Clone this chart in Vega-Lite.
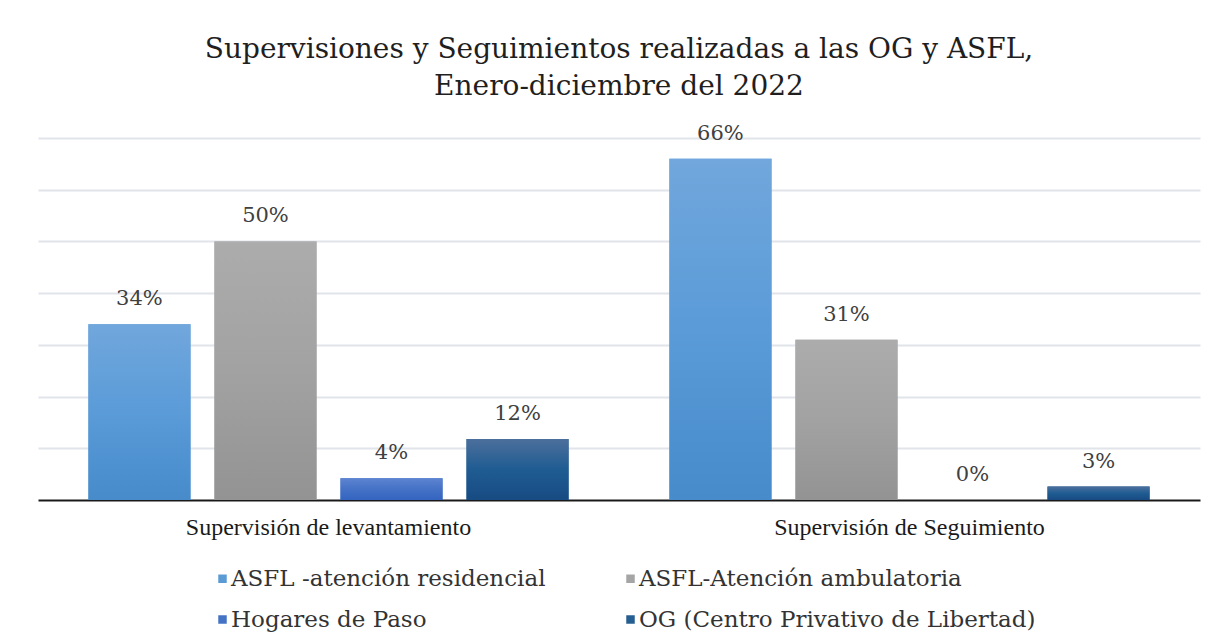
{
  "$schema": "https://vega.github.io/schema/vega-lite/v6.json",
  "width": 1162,
  "height": 362,
  "padding": {"left": 38, "top": 35, "right": 17, "bottom": 5},
  "background": "white",
  "title": {
    "text": ["Supervisiones y Seguimientos realizadas a las OG y ASFL,", "Enero-diciembre  del 2022"],
    "font": "DejaVu Serif",
    "fontSize": 28,
    "fontWeight": "normal",
    "color": "#1f1f1f",
    "lineHeight": 37,
    "offset": 22,
    "anchor": "middle"
  },
  "data": {
    "values": [
      {"categoria": "Supervisión de levantamiento", "serie": "ASFL -atención residencial", "valor": 0.34},
      {"categoria": "Supervisión de levantamiento", "serie": "ASFL-Atención ambulatoria", "valor": 0.50},
      {"categoria": "Supervisión de levantamiento", "serie": "Hogares de Paso", "valor": 0.042},
      {"categoria": "Supervisión de levantamiento", "serie": "OG (Centro Privativo de Libertad)", "valor": 0.118},
      {"categoria": "Supervisión de Seguimiento", "serie": "ASFL -atención residencial", "valor": 0.66},
      {"categoria": "Supervisión de Seguimiento", "serie": "ASFL-Atención ambulatoria", "valor": 0.31},
      {"categoria": "Supervisión de Seguimiento", "serie": "Hogares de Paso", "valor": 0.0},
      {"categoria": "Supervisión de Seguimiento", "serie": "OG (Centro Privativo de Libertad)", "valor": 0.026}
    ]
  },
  "encoding": {
    "x": {
      "field": "categoria",
      "type": "nominal",
      "sort": ["Supervisión de levantamiento", "Supervisión de Seguimiento"],
      "scale": {"paddingInner": 0, "paddingOuter": 0},
      "axis": {
        "title": null,
        "labelAngle": 0,
        "labelFont": "Liberation Serif",
        "labelFontSize": 24,
        "labelColor": "#1a1a1a",
        "labelPadding": 15,
        "labelLimit": 600,
        "ticks": false,
        "domainColor": "#1a1a1a",
        "domainWidth": 2,
        "grid": false
      }
    },
    "xOffset": {
      "field": "serie",
      "type": "nominal",
      "sort": ["ASFL -atención residencial", "ASFL-Atención ambulatoria", "Hogares de Paso", "OG (Centro Privativo de Libertad)"],
      "scale": {"paddingInner": 0.19, "paddingOuter": 0.4}
    },
    "y": {
      "field": "valor",
      "type": "quantitative",
      "scale": {"domain": [0, 0.7], "nice": false},
      "axis": {
        "title": null,
        "labels": false,
        "ticks": false,
        "domain": false,
        "values": [0.1, 0.2, 0.3, 0.4, 0.5, 0.6, 0.7],
        "grid": true,
        "gridColor": "#e1e4e9",
        "gridWidth": 2
      }
    }
  },
  "layer": [
    {
      "mark": {"type": "bar"},
      "encoding": {
        "color": {
          "field": "serie",
          "type": "nominal",
          "scale": {
            "domain": ["ASFL -atención residencial", "ASFL-Atención ambulatoria", "Hogares de Paso", "OG (Centro Privativo de Libertad)"],
            "range": ["#5b9bd5", "#a5a5a5", "#4472c4", "#255e91"]
          },
          "legend": {
            "title": null,
            "orient": "none",
            "direction": "horizontal",
            "legendX": 173,
            "legendY": 429,
            "padding": 0,
            "columns": 2,
            "columnPadding": 73,
            "rowPadding": 17,
            "symbolType": "square",
            "symbolSize": 72,
            "symbolStrokeWidth": 0,
            "labelFont": "DejaVu Serif",
            "labelFontSize": 23,
            "labelColor": "#333333",
            "labelOffset": -3,
            "labelLimit": 500
          }
        }
      }
    },
    {
      "mark": {"type": "bar"},
      "encoding": {
        "fill": {
          "condition": [
            {"test": "datum.serie === 'ASFL -atención residencial'", "value": {"gradient": "linear", "x1": 0, "y1": 0, "x2": 0, "y2": 1, "stops": [{"offset": 0, "color": "#71a7dc"}, {"offset": 0.5, "color": "#5a9bd8"}, {"offset": 1, "color": "#478bcb"}]}},
            {"test": "datum.serie === 'ASFL-Atención ambulatoria'", "value": {"gradient": "linear", "x1": 0, "y1": 0, "x2": 0, "y2": 1, "stops": [{"offset": 0, "color": "#acacac"}, {"offset": 0.5, "color": "#a2a2a2"}, {"offset": 1, "color": "#939393"}]}},
            {"test": "datum.serie === 'Hogares de Paso'", "value": {"gradient": "linear", "x1": 0, "y1": 0, "x2": 0, "y2": 1, "stops": [{"offset": 0, "color": "#5d84d1"}, {"offset": 0.5, "color": "#4572c6"}, {"offset": 1, "color": "#3464c0"}]}}
          ],
          "value": {"gradient": "linear", "x1": 0, "y1": 0, "x2": 0, "y2": 1, "stops": [{"offset": 0, "color": "#4c6f9c"}, {"offset": 0.5, "color": "#1f5c92"}, {"offset": 1, "color": "#174b82"}]}
        }
      }
    },
    {
      "mark": {"type": "text", "baseline": "middle", "dy": -25, "font": "DejaVu Serif", "fontSize": 21, "color": "#404040"},
      "encoding": {
        "text": {"field": "valor", "type": "quantitative", "format": ".0%"}
      }
    }
  ],
  "config": {
    "view": {"stroke": null}
  }
}
